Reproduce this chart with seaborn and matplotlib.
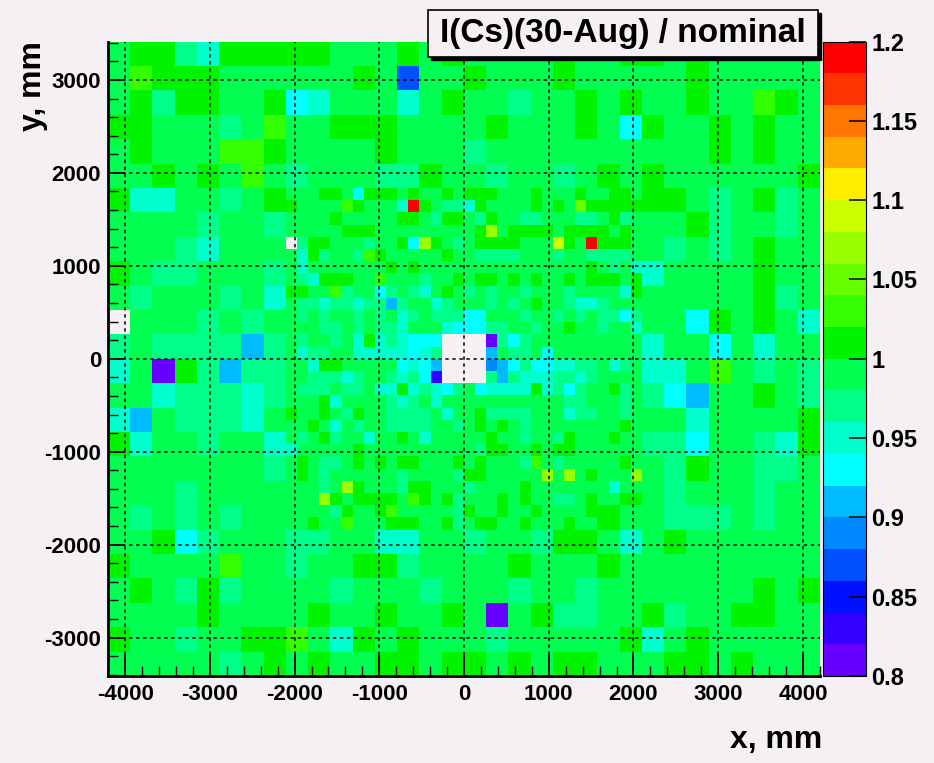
import numpy as np
import matplotlib
matplotlib.use("Agg")
import matplotlib.pyplot as plt
from matplotlib.colors import ListedColormap
from matplotlib.patches import Rectangle
import seaborn as sns

# ---- values ---------------------------------------------------------------
# one letter per cell, every letter is one colour band of the palette (band centre)
CODE_VALUE = {'a': 0.81, 'b': 0.83, 'c': 0.85, 'd': 0.87, 'e': 0.89, 'f': 0.91,
              'g': 0.93, 'h': 0.95, 'i': 0.97, 'j': 0.99, 'k': 1.01, 'l': 1.03,
              'm': 1.05, 'n': 1.07, 'o': 1.09, 'p': 1.11, 'q': 1.13, 'r': 1.15,
              's': 1.17, 't': 1.19}
# '.' = empty cell, '*' = area covered by the inner (small) cells

# outer cells, 26 rows (top -> bottom) x 32 columns (left -> right)
OUTER_ROWS = [
    "jkkihkkkkk" "jjjkjkjjjj" "kjjkkjkjjj" "jj",
    "jlkkkjjjjj" "jkjdjjkjjj" "kjjjjjkjjj" "jj",
    "jkikkjjkgh" "jjjhjkjjij" "jkjkjjkjjl" "kj",
    "kkjjjijljj" "kkkjjjjkjj" "jkjgkjjkjk" "jj",
    "jkjjjllkjj" "jjkjjjijjj" "jjjjjjjkjk" "jj",
    "jjkjkjljij" "jjiikjjijj" "ijkjkjjjjj" "jk",
    "khhjjijk" "****************" "kkjijkij",
    "jjjjijji" "****************" "jjkijjij",
    "jjjihjjj" "****************" "jijijkjj",
    "kjiijjji" "****************" "hjjjjkjj",
    "jijjjijh" "****************" "jjjjjkij",
    ".jjjijij" "****************" "jjgkjkjh",
    "ijiiiifi" "****************" "hjjgjhjj",
    "hjakifii" "****************" "hhjljiji",
    "jjhiiihi" "****************" "igfjjkji",
    "hfjiiihj" "****************" "jjhjjjjk",
    "khjjijjh" "****************" "iigjjihk",
    "jjjjjjji" "****************" "jikjjiij",
    "jjjijjjj" "****************" "jijjjijj",
    "jijijijj" "****************" "jiiijijj",
    "jjkgijjjii" "jjhhjjijji" "kkjhjkjjjj" "jj",
    "kjjjjljjij" "jkkijjjjkj" "jjkjjjjjjj" "jj",
    "jkjikijjjj" "ijjjijjjij" "jijjjjjjjk" "jk",
    "jjjjkjjjjk" "jjkjjkjajk" "iijjkijjkk" "jj",
    "kjjijjkklj" "hkjkjjjijj" "jjjkhjkjjj" "jj",
    "jjjjjijkjk" "jjkkjkkjkj" "kkjjjkkjkj" "jj",
]

# inner cells (half size), 28 rows x 32 columns, x in [-2101, 2101], y in [-1838, 1838]
INNER_ROWS = [
    "jjjkkjgkkk" "jkjjkjkkkj" "jjkjjjkjjk" "kj",
    "kjjjjlkjjj" "htkjiihkjj" "jjkjkjmkkk" "kk",
    "jjjjkjjjjj" "kkjikkjikj" "jiijjjiijk" "ij",
    "jjjjjkkkjj" "jjjjjjjknj" "kkkkjkkkkj" "kj",
    ".ikkjjjijj" "kgnkjijkkk" "kjjjokjtkk" "kj",
    "jhkijjilkj" "jjjjkjjiii" "ijjjijjiii" "ij",
    "jhjjjjjjjk" "jkjjjjjjjj" "jjjjjjjkji" "jh",
    "jihkkkjjlj" "jjijjkjkkj" "kjkjjkjkkk" "jk",
    "kkjjlijjgi" "jihjkjijij" "jijjjijjjj" "hk",
    "jiihiihiif" "ijjhijjjij" "ijkjjihhij" "jj",
    "jijijjijij" "hijiiiggjj" "jijjijijii" "gi",
    "jjjiijijii" "hjjjhgggii" "jjijjkjjij" "jh",
    "jijjijhkhi" "hggg....ai" "gijjjjjjjj" "jj",
    "jhiijjhhhh" "hghi....fj" "iijgjjjjjj" "jj",
    "jjhkkjjjjj" "ghgf....ef" "gigghhiijh" "ij",
    "jjiiihijji" "higb....if" "ihhhiihijj" "jj",
    "jiiijiijhh" "khihgijghh" "hhkhigijjk" "ij",
    "jjjkhjjjji" "hijhjjjjjj" "jjjjjiijjj" "ij",
    "kjjkjikjji" "iiijhjjkii" "iijjjhiijj" "ij",
    "jjkjhjijji" "iiijjijkjk" "jijjjjjjjj" "kj",
    "jijkijjhjj" "kjhjjjjjkj" "jijjikjjjk" "jj",
    "hjjjjjkjjj" "jjjjjjjikk" "jjkjkkjjjj" "jj",
    "jkjiijkjkj" "kkjjjkjkjj" "jiljijjjjj" "kj",
    "jkjijjjjjj" "ijjjjikkjj" "jjjnjnjkjj" "jn",
    "jjjijnkjjj" "ikkjjjijjj" "jkjjjjjjjh" "jj",
    "jjjnkjkkkk" "jlkjkijjjk" "jkjjiijkjj" "kk",
    "jjjjikjjkl" "jjjjjikjjk" "jjkjjjjkkk" "jj",
    "jjkjjljjjk" "kkjjkijkkj" "jkjjjkjjkk" "jj",
]

X_TICKS = [-4000, -3000, -2000, -1000, 0, 1000, 2000, 3000, 4000]
Y_TICKS = [-3000, -2000, -1000, 0, 1000, 2000, 3000]
CBAR_TICKS = [0.8, 0.85, 0.9, 0.95, 1.0, 1.05, 1.1, 1.15, 1.2]
CBAR_LABELS = ["0.8", "0.85", "0.9", "0.95", "1", "1.05", "1.1", "1.15", "1.2"]
TITLE = "I(Cs)(30-Aug) / nominal"

# ROOT like palette, 20 bands from 0.8 to 1.2
PALETTE = ["#6600ff", "#3300ff", "#0011ff", "#0050ff", "#0088ff", "#00bbff",
           "#00ffff", "#00ffcc", "#00ff88", "#00ff50", "#00f400", "#33ff00",
           "#66ff00", "#99ff00", "#ccff00", "#ffee00", "#ffaa00", "#ff7700",
           "#ff3300", "#ff0000"]

# ---- geometry of the detector cells ---------------------------------------
CELL = 131.3          # small cell, mm
X0, Y0 = -4202.4, 3413.8
BG = "#f4f0f4"


def decode(rows):
    return np.array([[CODE_VALUE.get(ch, np.nan) for ch in r] for r in rows])


outer = decode(OUTER_ROWS)
grid = np.kron(outer, np.ones((2, 2)))        # 52 x 64 small cells
grid[12:40, 16:48] = decode(INNER_ROWS)


def xpos(x):
    return (np.asarray(x) - X0) / CELL


def ypos(y):
    return (Y0 - np.asarray(y)) / CELL


plt.rcParams['font.family'] = ['Liberation Sans', 'DejaVu Sans']
plt.rcParams['font.weight'] = 'bold'

fig = plt.figure(figsize=(9.34, 7.63), dpi=100, facecolor=BG)
ax = fig.add_axes([0.1156, 0.114, 0.7623, 0.8316])
cax = fig.add_axes([0.881, 0.114, 0.046, 0.8316])
ax.set_facecolor(BG)

cmap = ListedColormap(PALETTE)
sns.heatmap(grid, ax=ax, cmap=cmap, vmin=0.8, vmax=1.2, cbar_ax=cax,
            xticklabels=False, yticklabels=False,
            cbar_kws={'ticks': CBAR_TICKS})

# axes, ticks
ax.set_xticks(xpos(X_TICKS))
ax.set_xticklabels([str(v) for v in X_TICKS])
ax.set_yticks(ypos(Y_TICKS))
ax.set_yticklabels([str(v) for v in Y_TICKS])
ax.set_xticks(xpos(np.arange(-4200, 4201, 200)), minor=True)
ax.set_yticks(ypos(np.arange(-3400, 3401, 200)), minor=True)
ax.tick_params(axis='x', which='major', direction='in', length=16, width=1.3,
               labelsize=16, pad=6, rotation=0)
ax.tick_params(axis='y', which='major', direction='in', length=12, width=1.3,
               labelsize=16, pad=5, rotation=0)
ax.tick_params(which='minor', direction='in', length=7, width=1.0)
for lab in ax.get_xticklabels() + ax.get_yticklabels():
    lab.set_fontweight('bold')
for side in ['left', 'bottom']:
    ax.spines[side].set_visible(True)
    ax.spines[side].set_linewidth(2)
    ax.spines[side].set_color('black')

# dotted grid
for x in X_TICKS:
    ax.axvline(xpos(x), color='black', lw=1.1, ls=(0, (2.2, 2.4)), zorder=3)
for y in Y_TICKS:
    ax.axhline(ypos(y), color='black', lw=1.1, ls=(0, (2.2, 2.4)), zorder=3)

# colour bar
cbar = ax.collections[0].colorbar
cbar.set_ticks(CBAR_TICKS)
cbar.set_ticklabels(CBAR_LABELS)
cbar.outline.set_linewidth(0.8)
cax.tick_params(direction='in', length=12, width=1.1, labelsize=17, pad=4)
for lab in cax.get_yticklabels():
    lab.set_fontweight('bold')

# axis titles
fig.text(822 / 934, 1 - 740 / 763, "x, mm", ha='right', va='center',
         fontsize=23, fontweight='bold')
fig.text(33 / 934, 1 - 41 / 763, "y, mm", ha='center', va='top',
         rotation=90, fontsize=23, fontweight='bold')

# title box with shadow
bx, by, bw, bh = 428 / 934, 1 - 57 / 763, 390 / 934, 47 / 763
fig.patches.append(Rectangle((bx + 3 / 934, by - 3 / 763), bw, bh,
                             transform=fig.transFigure, fc='black', ec='black'))
fig.patches.append(Rectangle((bx, by), bw, bh, transform=fig.transFigure,
                             fc=BG, ec='black', lw=1.2))
fig.text(bx + bw / 2, by + bh / 2, TITLE, ha='center', va='center',
         fontsize=24, fontweight='bold')

fig.savefig("out.png", dpi=100, facecolor=BG)
